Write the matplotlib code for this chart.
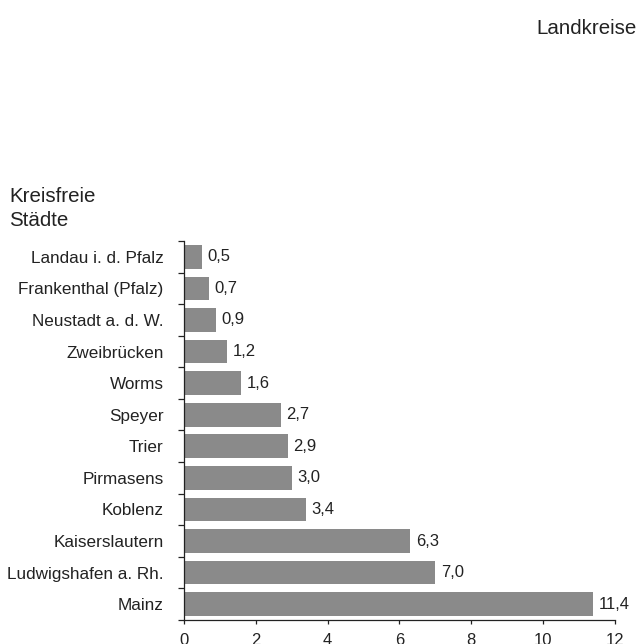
import matplotlib.pyplot as plt
import numpy as np

plt.rcParams['font.family'] = ['Liberation Sans', 'DejaVu Sans']

staedte = ['Landau i. d. Pfalz', 'Frankenthal (Pfalz)', 'Neustadt a. d. W.', 'Zweibrücken',
           'Worms', 'Speyer', 'Trier', 'Pirmasens', 'Koblenz', 'Kaiserslautern',
           'Ludwigshafen a. Rh.', 'Mainz']
werte = [0.5, 0.7, 0.9, 1.2, 1.6, 2.7, 2.9, 3.0, 3.4, 6.3, 7.0, 11.4]
xticks = [0, 2, 4, 6, 8, 10, 12]

txt = '#222222'
fig = plt.figure(figsize=(6.38, 6.44), dpi=100)
ax = fig.add_axes([0.288, 0.0373, 0.676, 0.5885])

y = np.arange(len(staedte))
ax.barh(y, werte, height=0.75, color='#8a8a8a')
for yi, v in zip(y, werte):
    ax.annotate(f'{v:.1f}'.replace('.', ','), (v, yi), xytext=(4, 0), textcoords='offset points',
                va='center', ha='left', fontsize=12, color=txt)

ax.set_ylim(len(staedte) - 0.5, -0.5)
ax.set_xlim(0, 12)
ax.set_yticks(y)
ax.set_yticklabels(staedte)
ax.set_yticks(np.arange(len(staedte) + 1) - 0.5, minor=True)
ax.tick_params(axis='y', which='major', length=0, pad=14.5, labelsize=12.3, labelcolor=txt)
ax.tick_params(axis='y', which='minor', length=4.5, width=0.9, color='#222222')
ax.set_xticks(xticks)
ax.set_xticklabels([str(t) for t in xticks])
ax.tick_params(axis='x', length=3, width=0.9, pad=6.5, labelsize=12, labelcolor=txt, color='#222222')

for s in ['top', 'right']:
    ax.spines[s].set_visible(False)
for s in ['left', 'bottom']:
    ax.spines[s].set_linewidth(0.9)
    ax.spines[s].set_color('#222222')

fig.text(9 / 638, 1 - 202 / 644, 'Kreisfreie', fontsize=14.8, color=txt, va='baseline', ha='left')
fig.text(9 / 638, 1 - 226.5 / 644, 'Städte', fontsize=14.8, color=txt, va='baseline', ha='left')
fig.text(637 / 638, 1 - 34 / 644, 'Landkreise', fontsize=14.8, color=txt, va='baseline', ha='right')

fig.savefig('out.png', dpi=100)
